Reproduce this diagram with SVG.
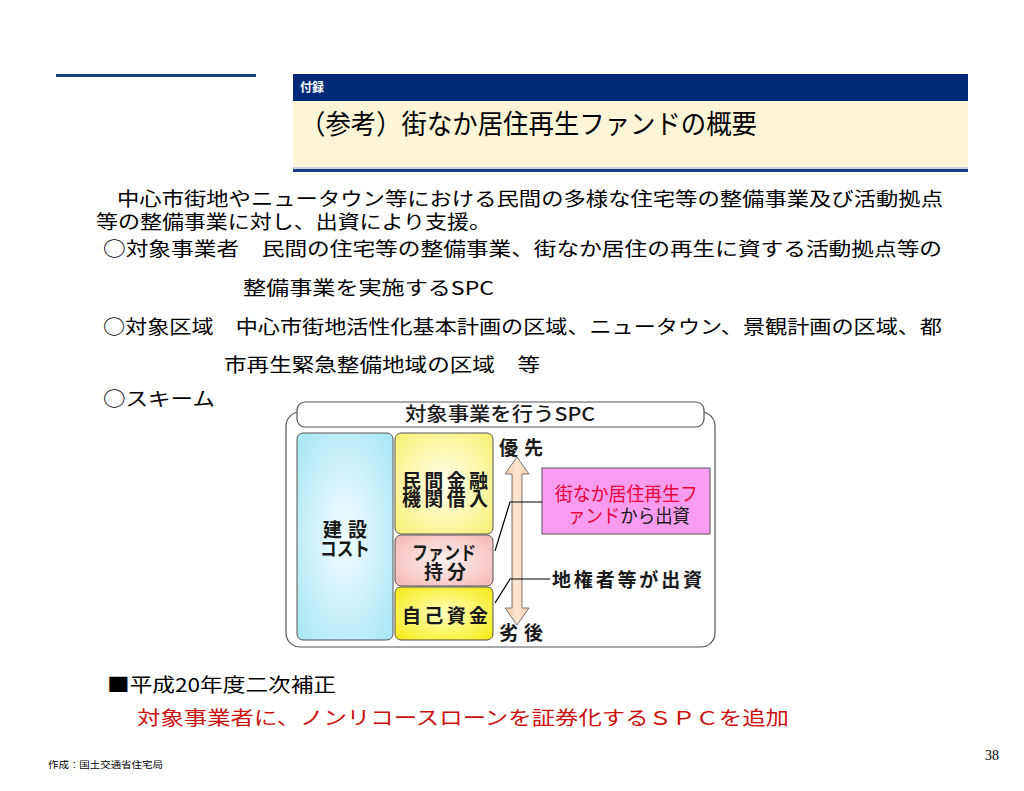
<svg xmlns="http://www.w3.org/2000/svg" width="1024" height="791" viewBox="0 0 1024 791">
<style>
.jp{font-family:"Noto Sans CJK JP","Noto Sans",sans-serif;}
.body{font-family:"Noto Sans CJK JP",sans-serif;font-size:19px;fill:#000;}
.dg{font-family:"Noto Sans CJK JP",sans-serif;font-size:19px;font-weight:bold;fill:#1a1a1a;}
.box{stroke:#555;stroke-width:1;}
.ln{stroke:#000;stroke-width:1.2;fill:none;}
</style>
<defs>
<radialGradient id="gBlue" cx="0.5" cy="0.5" r="0.7">
<stop offset="0" stop-color="#f2fcff"/><stop offset="1" stop-color="#a8e6f6"/>
</radialGradient>
<radialGradient id="gYel" cx="0.5" cy="0.5" r="0.7">
<stop offset="0" stop-color="#fffff0"/><stop offset="1" stop-color="#f6f070"/>
</radialGradient>
<radialGradient id="gPink" cx="0.5" cy="0.5" r="0.7">
<stop offset="0" stop-color="#fff2f2"/><stop offset="1" stop-color="#f4b4b4"/>
</radialGradient>
<radialGradient id="gYel2" cx="0.5" cy="0.5" r="0.7">
<stop offset="0" stop-color="#ffffc0"/><stop offset="1" stop-color="#f5ea10"/>
</radialGradient>
<linearGradient id="gArr" x1="0" y1="0" x2="1" y2="0">
<stop offset="0" stop-color="#f6c9a4"/><stop offset="0.5" stop-color="#fde6d2"/><stop offset="1" stop-color="#f6c9a4"/>
</linearGradient>
</defs>
<rect width="1024" height="791" fill="#fff"/>

<g id="header">
<rect x="56" y="74" width="200" height="3" fill="#1f3f88"/>
<rect x="293" y="74" width="675" height="27" fill="#002a78"/>
<rect x="293" y="101" width="675" height="66" fill="#fdf6d6"/>
<rect x="293" y="167" width="675" height="2" fill="#c8d0e0"/>
<rect x="293" y="169" width="675" height="3" fill="#1f3f88"/>
<text x="300" y="92" class="jp" font-size="12" font-weight="bold" fill="#fff">付録</text>
<text x="300" y="134" class="jp" font-size="27" fill="#000" textLength="457" lengthAdjust="spacingAndGlyphs">（参考）街なか居住再生ファンドの概要</text>
</g>

<g id="body-text" class="body">
<text x="117" y="206" textLength="826" lengthAdjust="spacingAndGlyphs">中心市街地やニュータウン等における民間の多様な住宅等の整備事業及び活動拠点</text>
<text x="96" y="229" textLength="395" lengthAdjust="spacingAndGlyphs">等の整備事業に対し、出資により支援。</text>
<text x="103" y="256" textLength="839" lengthAdjust="spacingAndGlyphs">○対象事業者　民間の住宅等の整備事業、街なか居住の再生に資する活動拠点等の</text>
<text x="243" y="295" textLength="251" lengthAdjust="spacingAndGlyphs">整備事業を実施するSPC</text>
<text x="103" y="334" textLength="839" lengthAdjust="spacingAndGlyphs">○対象区域　中心市街地活性化基本計画の区域、ニュータウン、景観計画の区域、都</text>
<text x="224" y="372" textLength="316" lengthAdjust="spacingAndGlyphs">市再生緊急整備地域の区域　等</text>
<text x="103" y="406" textLength="112" lengthAdjust="spacingAndGlyphs">○スキーム</text>
<text x="107" y="692" textLength="229" lengthAdjust="spacingAndGlyphs">■平成20年度二次補正</text>
<text x="137" y="725" style="fill:#cc1010" textLength="652" lengthAdjust="spacingAndGlyphs">対象事業者に、ノンリコースローンを証券化するＳＰＣを追加</text>
<text x="48" y="768" font-size="9" textLength="115" lengthAdjust="spacingAndGlyphs">作成：国土交通省住宅局</text>
<text x="985" y="760" font-family="Liberation Serif,serif" font-size="14">38</text>
</g>

<g id="spc-frame">
<rect x="286" y="412" width="429" height="235" rx="14" fill="#fff" stroke="#555" stroke-width="1.2"/>
<rect x="297" y="402" width="407" height="25" rx="8" fill="#fff" stroke="#555" stroke-width="1.2"/>
<text x="405" y="421" class="dg" font-size="16" style="font-weight:500" textLength="190" lengthAdjust="spacingAndGlyphs">対象事業を行うSPC</text>
</g>

<g id="cost">
<rect x="297" y="433" width="96" height="207" rx="6" fill="url(#gBlue)" class="box"/>
<text x="323" y="537" class="dg" textLength="44" lengthAdjust="spacing">建設</text>
<text x="320" y="556" class="dg" textLength="50" lengthAdjust="spacingAndGlyphs">コスト</text>
</g>

<g id="loan">
<rect x="395" y="433" width="98" height="101" rx="6" fill="url(#gYel)" class="box"/>
<text x="402" y="488" class="dg" textLength="86" lengthAdjust="spacing">民間金融</text>
<text x="402" y="506" class="dg" textLength="86" lengthAdjust="spacing">機関借入</text>
</g>

<g id="fund-share">
<rect x="395" y="535" width="98" height="51" rx="6" fill="url(#gPink)" class="box"/>
<text x="412" y="560" class="dg" textLength="64" lengthAdjust="spacingAndGlyphs">ファンド</text>
<text x="424" y="579" class="dg" textLength="42" lengthAdjust="spacing">持分</text>
</g>

<g id="equity">
<rect x="395" y="587" width="98" height="53" rx="6" fill="url(#gYel2)" class="box"/>
<text x="402" y="623" class="dg" textLength="86" lengthAdjust="spacing">自己資金</text>
</g>

<g id="priority-arrow">
<path d="M517 457 L529 474 L522 474 L522 608 L529 608 L517 625 L505 608 L512 608 L512 474 L505 474 Z" fill="url(#gArr)" stroke="#777" stroke-width="1"/>
<text x="499" y="455" class="dg" textLength="44" lengthAdjust="spacing">優先</text>
<text x="499" y="640" class="dg" textLength="44" lengthAdjust="spacing">劣後</text>
</g>

<g id="fund-box">
<rect x="542" y="468" width="168" height="66" fill="#f99cf0" stroke="#555" stroke-width="1"/>
<text x="555" y="501" class="dg" style="fill:#e8003a;font-weight:normal" textLength="143" lengthAdjust="spacingAndGlyphs">街なか居住再生フ</text>
<text x="568" y="523" class="dg" style="font-weight:normal" textLength="122" lengthAdjust="spacingAndGlyphs"><tspan style="fill:#e8003a">ァンド</tspan>から出資</text>
</g>

<g id="landowner">
<text x="552" y="587" class="dg" textLength="150" lengthAdjust="spacing">地権者等が出資</text>
</g>

<g id="connectors">
<polyline class="ln" points="495,551 510,502 542,502"/>
<polyline class="ln" points="495,603 510,579 550,579"/>
</g>
</svg>
